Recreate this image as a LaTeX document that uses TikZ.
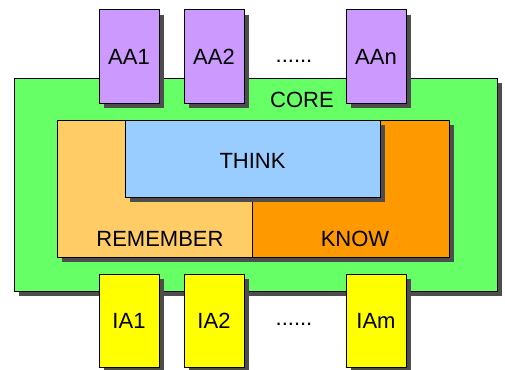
\documentclass[tikz,border=0pt]{standalone}
\usepackage{fontspec}
\setmainfont{Liberation Sans}
\usetikzlibrary{shadows}
\definecolor{coregreen}{HTML}{66FF66}
\definecolor{aapurple}{HTML}{CC99FF}
\definecolor{iayellow}{HTML}{FFFF00}
\definecolor{remorange}{HTML}{FFCC66}
\definecolor{knoworange}{HTML}{FF9900}
\definecolor{thinkblue}{HTML}{99CCFF}
\definecolor{shadowgray}{HTML}{4D4D4D}
\begin{document}
\begin{tikzpicture}[x=1pt,y=-1pt,
  font=\fontsize{22}{26}\selectfont,
  boxshadow/.style={drop shadow={shadow xshift=5pt, shadow yshift=-5pt, fill=shadowgray, opacity=1}},
  block/.style={draw=black, line width=1pt, inner sep=0pt, boxshadow},
  agent/.style={block, minimum width=60pt, minimum height=93pt},
  lbl/.style={inner sep=0pt, anchor=base}
]
\useasboundingbox (0,0) rectangle (505,369);
% core
\node[block, fill=coregreen, minimum width=483pt, minimum height=213pt] (core) at (255.5,184.5) {};
\node[lbl] (coretext) at (302,107) {CORE};
% remember / know
\node[block, fill=remorange, minimum width=195pt, minimum height=137pt] (remember) at (154.5,188.5) {};
\node[block, fill=knoworange, minimum width=197pt, minimum height=137pt] (know) at (350.5,188.5) {};
\node[block, fill=thinkblue, minimum width=255pt, minimum height=77pt] (think) at (252.5,158.5) {};
\node[lbl] (thinktext) at (252.5,168) {THINK};
\node[lbl] (remtext) at (160,246) {REMEMBER};
\node[lbl] (knowtext) at (355,246) {KNOW};
% action agents
\node[agent, fill=aapurple] (aa1) at (129,56.5) {AA1};
\node[agent, fill=aapurple] (aa2) at (214,56.5) {AA2};
\node[agent, fill=aapurple] (aan) at (376,56.5) {AAn};
\node[lbl] (aadots) at (294,62) {......};
% input agents
\node[agent, fill=iayellow] (ia1) at (129,320.5) {IA1};
\node[agent, fill=iayellow] (ia2) at (214,320.5) {IA2};
\node[agent, fill=iayellow] (iam) at (376,320.5) {IAm};
\node[lbl] (iadots) at (294,325) {......};
\end{tikzpicture}
\end{document}
